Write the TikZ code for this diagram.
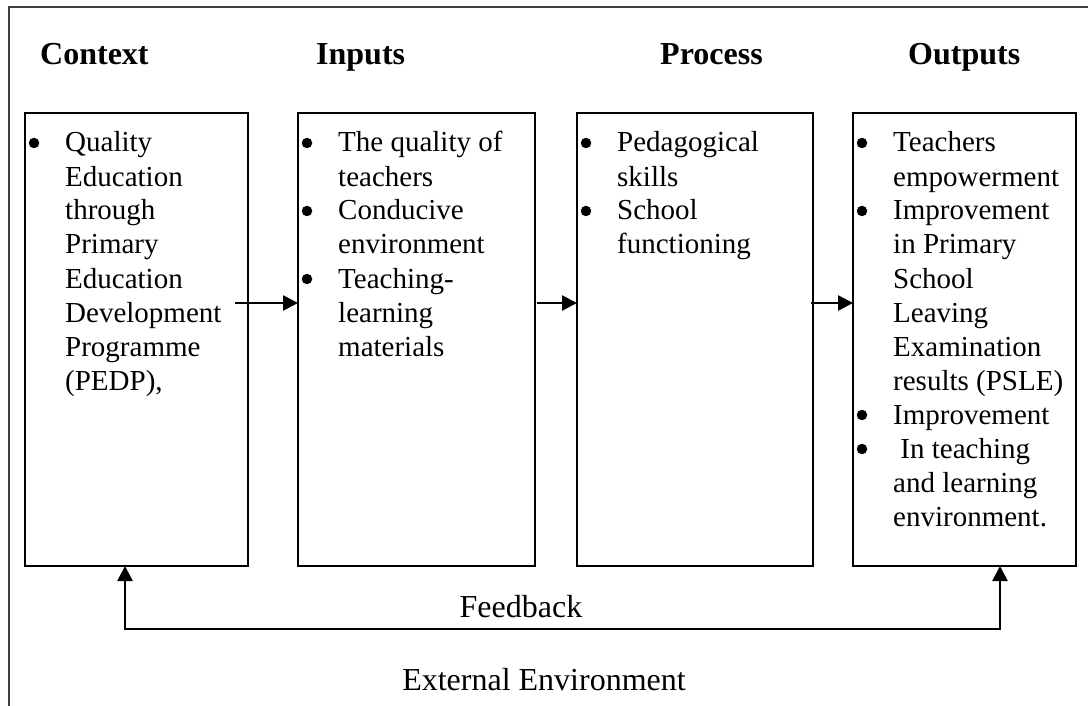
\documentclass[tikz,border=0pt]{standalone}
\usepackage{fontspec}
\setmainfont{Liberation Serif}
\usetikzlibrary{arrows.meta}
\begin{document}
\begin{tikzpicture}[x=1pt,y=-1pt,
  stagebox/.style={draw, line width=1.9pt, minimum width=#1, minimum height=453pt,
    anchor=north west, inner sep=0pt, outer sep=0pt},
  head/.style={anchor=base west, inner sep=0pt, font=\fontsize{32}{38}\selectfont\bfseries},
  txt/.style={anchor=base west, inner sep=0pt, font=\fontsize{29}{34}\selectfont},
  lbl/.style={anchor=base, inner sep=0pt, font=\fontsize{32}{38}\selectfont},
  bul/.style={circle, fill, inner sep=0pt, minimum size=10.5pt},
  flow/.style={line width=2.6pt, -{Triangle[length=15pt,width=15pt]}},
  fb/.style={line width=2.6pt, {Triangle[length=15pt,width=15pt]}-{Triangle[length=15pt,width=15pt]}}
]
\useasboundingbox (0,0) rectangle (1088,706);

% outer frame (open on the right and bottom)
\draw[line width=1.2pt, black!75] (9,706) -- (9,7) -- (1088,7);

% column headings
\node[head] (hctx) at (40,65)  {Context};
\node[head] (hin)  at (316,65) {Inputs};
\node[head] (hpr)  at (660,65) {Process};
\node[head] (hout) at (908,65) {Outputs};

% stage boxes
\node[stagebox=223pt] (b1) at (25,113)  {};
\node[stagebox=237pt] (b2) at (298,113) {};
\node[stagebox=236pt] (b3) at (577,113) {};
\node[stagebox=223pt] (b4) at (853,113) {};

% Context
\node[bul] (d10) at (34,143) {};
\foreach \k/\t in {0/Quality,1/Education,2/through,3/Primary,4/Education,
                   5/Development,6/Programme,7/{(PEDP),}}
  \node[txt] (c\k) at (65,{152+34*\k}) {\t};

% Inputs
\foreach \k in {0,2,4}
  \node[bul] (d2\k) at (307,{143+34*\k}) {};
\foreach \k/\t in {0/The quality of,1/teachers,2/Conducive,3/environment,
                   4/Teaching-,5/learning,6/materials}
  \node[txt] (i\k) at (338,{152+34*\k}) {\t};

% Process
\foreach \k in {0,2}
  \node[bul] (d3\k) at (586,{143+34*\k}) {};
\foreach \k/\t in {0/Pedagogical,1/skills,2/School,3/functioning}
  \node[txt] (p\k) at (617,{152+34*\k}) {\t};

% Outputs
\foreach \k in {0,2,8,9}
  \node[bul] (d4\k) at (862,{143+34*\k}) {};
\foreach \k/\t in {0/Teachers,1/empowerment,2/Improvement,3/in Primary,4/School,
                   5/Leaving,6/Examination,7/results (PSLE),8/Improvement,
                   9/{\ In teaching},10/and learning,11/environment.}
  \node[txt] (o\k) at (893,{152+34*\k}) {\t};

% flow between stages
\draw[flow] ([shift={(-13pt,-190pt)}]b1.north east) -- ([yshift=-190pt]b2.north west);
\draw[flow] ([shift={(2pt,-190pt)}]b2.north east) -- ([yshift=-190pt]b3.north west);
\draw[flow] ([shift={(-2pt,-190pt)}]b3.north east) -- ([yshift=-190pt]b4.north west);

% feedback loop
\coordinate (fbL) at ([shift={(100pt,-63pt)}]b1.south west);
\draw[fb] ([xshift=100pt]b1.south west) -- (fbL) -| ([xshift=147pt]b4.south west);

\node[lbl] (feedback) at (521,617) {Feedback};
\node[lbl] (extenv) at (544,690) {External Environment};
\end{tikzpicture}
\end{document}
